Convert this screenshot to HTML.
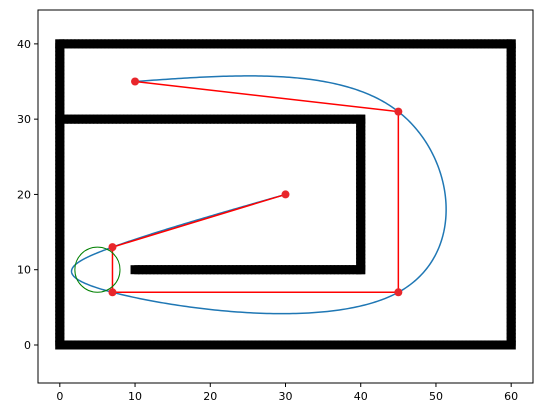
<!DOCTYPE html>
<html><head><meta charset="utf-8"><style>
body{margin:0;background:#fff}
text{font-family:"DejaVu Sans","Liberation Sans",sans-serif;font-size:11px;fill:#000}
</style></head><body>
<svg id="c" width="543" height="413"></svg>
<script>
const xTicks=[0,10,20,30,40,50,60];
const yTicks=[0,10,20,30,40];
const walls=[[[0,0],[60,0]],[[60,0],[60,40]],[[0,40],[60,40]],[[0,0],[0,40]],[[0,30],[40,30]],[[40,10],[40,30]],[[10,10],[40,10]]];
const waypointsX=[30,7,7,45,45,10];
const waypointsY=[20,13,7,7,31,35];
const circleCenter=[5,10];
const circleRadius=3;
const L=38,R=533,T=10,B=383,xmin=-2.9,xmax=62.9,ymin=-5.05,ymax=44.5;
const sx=v=>L+(v-xmin)/(xmax-xmin)*(R-L);
const sy=v=>B-(v-ymin)/(ymax-ymin)*(B-T);
const svg=document.getElementById('c');const NS='http://www.w3.org/2000/svg';
function mk(t,a,p){const e=document.createElementNS(NS,t);for(const k in a)e.setAttribute(k,a[k]);(p||svg).appendChild(e);return e;}
const frame=mk('rect',{x:L,y:T,width:R-L,height:B-T,fill:'none',stroke:'#000','stroke-width':1});


xTicks.forEach(v=>{mk('line',{x1:sx(v),x2:sx(v),y1:B,y2:B+4,stroke:'#000'});
const t=mk('text',{x:sx(v),y:B+17,'text-anchor':'middle'});t.textContent=v;

});
yTicks.forEach(v=>{mk('line',{x1:L-4,x2:L,y1:sy(v),y2:sy(v),stroke:'#000'});
const t=mk('text',{x:L-7,y:sy(v)+4,'text-anchor':'end'});t.textContent=v;

});
walls.forEach(w=>{const g=mk('g',{});


const n=Math.max(Math.abs(w[1][0]-w[0][0]),Math.abs(w[1][1]-w[0][1]))*2;
for(let i=0;i<=n;i++){const x=w[0][0]+(w[1][0]-w[0][0])*i/n,y=w[0][1]+(w[1][1]-w[0][1])*i/n;
mk('rect',{x:sx(x)-4.5,y:sy(y)-4.5,width:9,height:9,fill:'#000'},g);}});
function nat(ys){const n=ys.length,a=ys.slice(),c=new Array(n).fill(0),l=[1],mu=[0],z=[0];
for(let i=1;i<n-1;i++){l[i]=4-mu[i-1];mu[i]=1/l[i];z[i]=(3*(a[i+1]-2*a[i]+a[i-1])-z[i-1])/l[i];}
const b=[],d=[];
for(let j=n-2;j>=0;j--){c[j]=z[j]-mu[j]*c[j+1];b[j]=a[j+1]-a[j]-(c[j+1]+2*c[j])/3;d[j]=(c[j+1]-c[j])/3;}
return t=>{let j=Math.min(Math.floor(t),n-2);const h=t-j;return a[j]+b[j]*h+c[j]*h*h+d[j]*h*h*h;};}
const fx=nat(waypointsX),fy=nat(waypointsY);let dstr='';
for(let i=0;i<=500;i++){const t=i/500*(waypointsX.length-1);dstr+=(i?'L':'M')+sx(fx(t)).toFixed(2)+','+sy(fy(t)).toFixed(2);}
const sp=mk('path',{d:dstr,fill:'none',stroke:'#1f77b4','stroke-width':1.5});


const pl=mk('polyline',{points:waypointsX.map((x,i)=>sx(x)+','+sy(waypointsY[i])).join(' '),fill:'none',stroke:'#ff0000','stroke-width':1.5});


waypointsX.forEach((x,i)=>{const p=mk('circle',{cx:sx(x),cy:sy(waypointsY[i]),r:4,fill:'#e8262b'});

});
const ci=mk('circle',{cx:sx(circleCenter[0]),cy:sy(circleCenter[1]),r:circleRadius*(R-L)/(xmax-xmin),fill:'none',stroke:'green','stroke-width':1});


</script>
</body></html>
